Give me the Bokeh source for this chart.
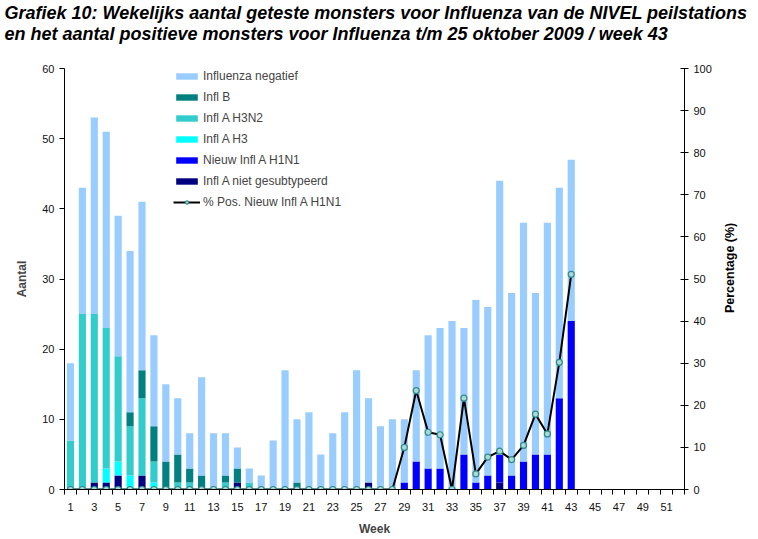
from bokeh.plotting import figure
from bokeh.layouts import row, column
from bokeh.models import Range1d, LinearAxis, FixedTicker, Legend, LegendItem, ColumnDataSource
from bokeh.core.properties import value
from bokeh.embed import file_html
from bokeh.resources import INLINE
import math

weeks = list(range(1, 44))

# aantallen per week (gelezen uit de grafiek)
niet_gesub = [0, 0, 1, 1, 2, 0, 2, 0, 0, 0, 0, 0, 0, 0, 1, 0, 0, 0, 0, 0, 0, 0,
              0, 0, 0, 1, 0, 0, 0, 0, 0, 0, 0, 0, 0, 0, 1, 0, 0, 0, 0, 0, 0]
h1n1 = [0] * 28 + [1, 4, 3, 3, 0, 5, 1, 2, 4, 2, 4, 5, 5, 13, 24]
h3 = [0, 0, 0, 2, 2, 2, 0, 1] + [0] * 35
h3n2 = [7, 25, 24, 20, 15, 7, 11, 3, 0, 1, 1, 0, 0, 1, 0, 1] + [0] * 27
infl_b = [0, 0, 0, 0, 0, 2, 4, 5, 4, 4, 2, 2, 0, 1, 2, 0, 0, 0, 0, 1] + [0] * 23
negatief = [11, 18, 28, 28, 20, 23, 24, 13, 11, 8, 5, 14, 8, 6, 3, 2, 2, 7, 17, 9, 11, 5,
            8, 11, 17, 12, 9, 10, 9, 13, 19, 20, 24, 18, 26, 24, 39, 26, 34, 23, 33, 30, 23]
pct_h1n1 = [0] * 28 + [10.0, 23.5, 13.6, 13.0, 0, 21.7, 3.7, 7.7, 9.1, 7.1, 10.5,
                       17.9, 13.2, 30.2, 51.1]

week_ticks = list(range(1, 52, 2))
week_edges = [w + 0.5 for w in range(0, 53)]

titel_1 = "Grafiek 10: Wekelijks aantal geteste monsters voor Influenza van de NIVEL peilstations"
titel_2 = "en het aantal positieve monsters voor Influenza t/m 25 oktober 2009 / week 43"

stack = ["niet", "h1n1", "h3", "h3n2", "b", "neg"]
kleuren = ["#000080", "#0000ff", "#00ffff", "#33cccc", "#008080", "#99ccff"]

src = ColumnDataSource(dict(week=weeks, niet=niet_gesub, h1n1=h1n1, h3=h3, h3n2=h3n2,
                            b=infl_b, neg=negatief, pct=pct_h1n1))

FONT = "Liberation Sans"


def kale_figuur(w, h):
    f = figure(width=w, height=h, output_backend="svg", toolbar_location=None,
               x_range=Range1d(0, w), y_range=Range1d(0, h),
               x_axis_location=None, y_axis_location=None,
               min_border_left=0, min_border_right=0, min_border_top=0, min_border_bottom=0)
    f.outline_line_color = None
    f.xgrid.visible = False
    f.ygrid.visible = False
    return f


# titelstrook bovenaan
kop = kale_figuur(757, 46)
kop.text(x=[4, 4], y=[34, 13], text=[titel_1, titel_2], text_align="left",
         text_baseline="middle", text_font=value(FONT), text_font_size="18px",
         text_font_style="bold italic", text_color="black")

p = figure(width=714, height=492, output_backend="svg", toolbar_location=None,
           x_range=Range1d(0.5, 52.5), y_range=Range1d(0, 60),
           min_border_left=64, min_border_right=27, min_border_top=22, min_border_bottom=49)
p.extra_y_ranges = {"pct": Range1d(0, 100)}
p.outline_line_color = None
p.xgrid.visible = False
p.ygrid.visible = False
p.title.standoff = 0

bars = p.vbar_stack(stack, x="week", width=0.6, color=kleuren, source=src, line_width=0)

lijn = p.line("week", "pct", source=src, y_range_name="pct", line_color="black", line_width=2)
punten = p.scatter("week", "pct", source=src, y_range_name="pct", size=6,
                   line_color="#2e8b8b", fill_color="#a8d8d8", line_width=1.2)

# x-as
xa = p.xaxis[0]
xa.ticker = FixedTicker(ticks=week_ticks, minor_ticks=week_edges)
xa.major_tick_out = 0
xa.major_tick_in = 0
xa.minor_tick_out = 5
xa.minor_tick_in = 0
xa.minor_tick_line_color = "black"
xa.axis_label = "Week"
xa.major_label_standoff = 8

# linker as
ya = p.yaxis[0]
ya.ticker = FixedTicker(ticks=[0, 10, 20, 30, 40, 50, 60])
ya.major_tick_out = 5
ya.major_tick_in = 0
ya.minor_tick_line_color = None
ya.axis_label = "Aantal"

# rechter as
ra = LinearAxis(y_range_name="pct", ticker=FixedTicker(ticks=list(range(0, 101, 10))))
ra.major_tick_out = 4
ra.major_tick_in = 4
ra.minor_tick_line_color = None
p.add_layout(ra, "right")

for ax in [xa, ya, ra]:
    ax.axis_line_color = "black"
    ax.major_tick_line_color = "black"
    ax.major_label_text_font = FONT
    ax.major_label_text_font_size = "11px"
    ax.major_label_text_color = "#111111"
    ax.axis_label_text_font = FONT
    ax.axis_label_text_font_size = "12px"
    ax.axis_label_text_font_style = "bold"
xa.axis_label_standoff = 8
ya.axis_label_standoff = 10

namen = ["Influenza negatief", "Infl B", "Infl A H3N2", "Infl A H3",
         "Nieuw Infl A H1N1", "Infl A niet gesubtypeerd"]
items = [LegendItem(label=naam, renderers=[r]) for naam, r in zip(namen, bars[::-1])]
items.append(LegendItem(label="% Pos. Nieuw Infl A H1N1", renderers=[lijn, punten]))

legend = Legend(items=items, location=(109, 280), glyph_width=27, glyph_height=8,
                label_height=8, spacing=7, padding=0, margin=0, label_standoff=3,
                label_text_font=FONT, label_text_font_size="12px",
                border_line_color=None, background_fill_alpha=0)
p.add_layout(legend, "center")

# smalle strook rechts voor de astitel "Percentage (%)" (leest van onder naar boven)
p2 = kale_figuur(43, 492)
p2.text(x=[15], y=[259], text=["Percentage (%)"], angle=math.pi / 2,
        text_align="center", text_baseline="middle", text_font=value(FONT),
        text_font_size="12.5px", text_font_style="bold", text_color="black")

open("out.html", "w").write(file_html(column(kop, row(p, p2)), INLINE))
